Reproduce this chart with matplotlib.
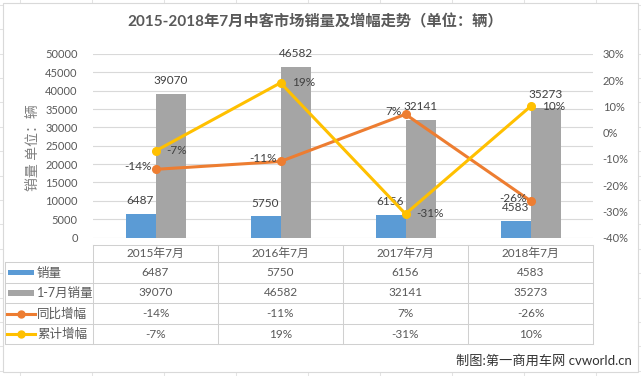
import matplotlib
matplotlib.use('Agg')
import matplotlib.pyplot as plt
from matplotlib.lines import Line2D
from matplotlib.patches import Rectangle
import numpy as np

plt.rcParams['font.family'] = ['Lato', 'Noto Sans CJK SC', 'DejaVu Sans']

categories = ['2015年7月', '2016年7月', '2017年7月', '2018年7月']
monthly = [6487, 5750, 6156, 4583]
ytd = [39070, 46582, 32141, 35273]
yoy = [-14, -11, 7, -26]
ytd_growth = [-7, 19, -31, 10]
row_names = ['销量', '1-7月销量', '同比增幅', '累计增幅']

BLUE = '#5b9bd5'
GRAY = '#a5a5a5'
ORANGE = '#ed7d31'
YELLOW = '#ffc000'
TXT = '#595959'
GRID = '#d9d9d9'

W, H = 641, 376
fig = plt.figure(figsize=(W / 100, H / 100), dpi=100)


def fx(x):
    return x / W


def fy(y):
    return 1 - y / H


def hline(y, x0, x1, color=GRID, lw=0.75, z=1):
    fig.add_artist(Line2D([fx(x0), fx(x1)], [fy(y), fy(y)], color=color, lw=lw, zorder=z))


def vline(x, y0, y1, color=GRID, lw=0.75, z=1):
    fig.add_artist(Line2D([fx(x), fx(x)], [fy(y0), fy(y1)], color=color, lw=lw, zorder=z))


# excel sheet grid behind the chart
for x in range(20, W, 72):
    vline(x, 0, H, color='#e3e3e3', z=-3)
for y in np.arange(4.8, H, 24.4):
    hline(y, 0, W, color='#e3e3e3', z=-3)
fig.add_artist(Rectangle((fx(3), fy(372)), fx(638) - fx(3), fy(3) - fy(372),
                         facecolor='white', edgecolor=GRID, lw=0.8, zorder=-2))

# plot area
ax = fig.add_axes([fx(93), fy(237.5), fx(593) - fx(93), fy(54) - fy(237.5)])
ax.set_facecolor('none')
ax2 = ax.twinx()
ax2.set_facecolor('none')

x = np.arange(len(categories))
bw = 0.24
b1 = ax.bar(x - bw / 2, monthly, bw, color=BLUE, zorder=2)
b2 = ax.bar(x + bw / 2, ytd, bw, color=GRAY, zorder=2)
ax.set_xlim(-0.5, len(categories) - 0.5)
ax.set_ylim(0, 50000)
ax.set_yticks(range(0, 50001, 5000))
ax.yaxis.grid(True, color=GRID, lw=0.8)
ax.set_axisbelow(True)
ax.set_xticks([])
ax.tick_params(axis='y', length=0, pad=11, labelsize=8, labelcolor=TXT)
for s in ax.spines.values():
    s.set_visible(False)

for xi, v in zip(x, monthly):
    ax.annotate(str(v), (xi - bw / 2, v), xytext=(0, 9.5), textcoords='offset points',
                ha='center', va='center', fontsize=8.5, color='#404040')
for xi, v in zip(x, ytd):
    ax.annotate(str(v), (xi + bw / 2, v), xytext=(0, 9.5), textcoords='offset points',
                ha='center', va='center', fontsize=8.5, color='#404040')

ax2.plot(x, yoy, color=ORANGE, lw=2.2, marker='o', ms=5.5, zorder=3)
ax2.plot(x, ytd_growth, color=YELLOW, lw=2.2, marker='o', ms=5.5, zorder=3)
ax2.set_ylim(-40, 30)
ax2.set_yticks(range(-40, 31, 10))
ax2.set_yticklabels([f'{v}%' for v in range(-40, 31, 10)])
ax2.tick_params(axis='y', length=0, pad=7, labelsize=8, labelcolor=TXT)
for s in ax2.spines.values():
    s.set_visible(False)

for xi, v in zip(x, yoy):
    ax2.annotate(f'{v}%', (xi, v), xytext=(-3, 2), textcoords='offset points',
                 ha='right', va='center', fontsize=8.5, color='#404040')
for xi, v in zip(x, ytd_growth):
    ax2.annotate(f'{v}%', (xi, v), xytext=(8, 0), textcoords='offset points',
                 ha='left', va='center', fontsize=8.5, color='#404040')

fig.text(fx(315), fy(22), '2015-2018年7月中客市场销量及增幅走势（单位：辆）',
         ha='center', va='center', fontsize=11, fontweight='bold', color=TXT)
fig.text(fx(32), fy(148), '销量 单位：辆', rotation=90, ha='center', va='center',
         fontsize=10, color='#7f7f7f')

# data table under the plot
col_edges = [93, 218, 343, 468, 593]
row_edges = [262, 283, 303, 324, 344]
hline(245, 93, 593, color='#d0d0d0')
for y in row_edges:
    hline(y, 5, 593, color='#d0d0d0')
vline(5, 262, 344, color='#d0d0d0')
for xe in col_edges:
    vline(xe, 245, 344, color='#d0d0d0')

tcol = [(col_edges[i] + col_edges[i + 1]) / 2 for i in range(len(categories))]
for xc, c in zip(tcol, categories):
    fig.text(fx(xc), fy(253.5), c, ha='center', va='center', fontsize=8.5, color=TXT)

rows = [[str(v) for v in monthly], [str(v) for v in ytd],
        [f'{v}%' for v in yoy], [f'{v}%' for v in ytd_growth]]
rcent = [(row_edges[i] + row_edges[i + 1]) / 2 for i in range(len(rows))]
for yc, vals in zip(rcent, rows):
    for xc, t in zip(tcol, vals):
        fig.text(fx(xc), fy(yc), t, ha='center', va='center', fontsize=8.5, color=TXT)

for yc, name in zip(rcent, row_names):
    fig.text(fx(37), fy(yc), name, ha='left', va='center', fontsize=9, color=TXT)

# legend keys in the table
for yc, col in zip(rcent[:2], [BLUE, GRAY]):
    fig.add_artist(Rectangle((fx(8), fy(yc + 2.5)), fx(34) - fx(8), fy(yc - 3) - fy(yc + 2.5),
                             facecolor=col, edgecolor='none', zorder=3))
for yc, col in zip(rcent[2:], [ORANGE, YELLOW]):
    fig.add_artist(Line2D([fx(7), fx(35)], [fy(yc), fy(yc)], color=col, lw=2.2, zorder=3))
    fig.add_artist(Line2D([fx(21)], [fy(yc)], color=col, marker='o', ms=5, zorder=3))

fig.text(fx(632), fy(361), '制图:第一商用车网 cvworld.cn', ha='right', va='center',
         fontsize=9.5, color='#333333')

fig.savefig('out.png', dpi=100)
